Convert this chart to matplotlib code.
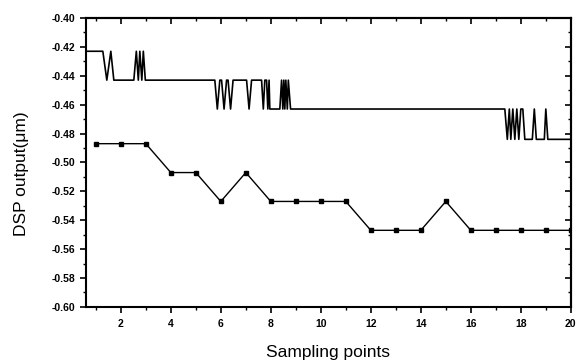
import numpy as np
import matplotlib.pyplot as plt
from matplotlib.ticker import MultipleLocator

plt.rcParams['font.family'] = ['Liberation Sans', 'DejaVu Sans']

# measured DSP output, sampled once per point
sample_x = np.arange(1, 21)
sample_y = [-0.487, -0.487, -0.487, -0.507, -0.507, -0.527, -0.507, -0.527,
            -0.527, -0.527, -0.527, -0.547, -0.547, -0.547, -0.527, -0.547,
            -0.547, -0.547, -0.547, -0.547]

# continuous trace (quantized levels with dithering)
trace_x = [0.6, 1.28, 1.44, 1.60, 1.72, 2.52, 2.62, 2.70, 2.76, 2.84, 2.90, 2.98,
           5.76, 5.86, 5.96, 6.03, 6.13, 6.23, 6.29, 6.39, 6.49, 7.03, 7.13, 7.23,
           7.63, 7.70, 7.76, 7.83, 7.88, 7.93, 7.96, 8.36, 8.43, 8.48, 8.52, 8.56,
           8.60, 8.66, 8.70, 8.79,
           17.36, 17.46, 17.54, 17.60, 17.68, 17.76, 17.84, 17.92, 18.00, 18.08,
           18.16, 18.46, 18.54, 18.62, 18.94, 19.00, 19.08, 20.0]
trace_y = [-0.423, -0.423, -0.443, -0.423, -0.443, -0.443, -0.423, -0.443, -0.423,
           -0.443, -0.423, -0.443,
           -0.443, -0.463, -0.443, -0.443, -0.463, -0.443, -0.443, -0.463, -0.443,
           -0.443, -0.463, -0.443, -0.443, -0.463, -0.443, -0.443, -0.463, -0.443,
           -0.463, -0.463, -0.443, -0.463, -0.443, -0.463, -0.443, -0.463, -0.443,
           -0.463,
           -0.463, -0.484, -0.463, -0.484, -0.463, -0.484, -0.463, -0.484, -0.463,
           -0.463, -0.484, -0.484, -0.463, -0.484, -0.484, -0.463, -0.484, -0.484]

fig = plt.figure(figsize=(5.76, 3.61), dpi=100)
ax = fig.add_axes([0.149, 0.150, 0.842, 0.800])

ax.plot(trace_x, trace_y, color='black', linewidth=1.2)
ax.plot(sample_x, sample_y, color='black', linewidth=1.0, marker='s',
        markersize=3)

ax.set_xlim(0.6, 20)
ax.set_ylim(-0.60, -0.40)
ax.xaxis.set_major_locator(MultipleLocator(2))
ax.xaxis.set_minor_locator(MultipleLocator(1))
ax.yaxis.set_major_locator(MultipleLocator(0.02))
ax.yaxis.set_minor_locator(MultipleLocator(0.01))
ax.yaxis.set_major_formatter(plt.FuncFormatter(lambda v, p: f"{v:.2f}"))

for s in ax.spines.values():
    s.set_linewidth(1.5)

ax.tick_params(axis='both', which='major', direction='out', length=4,
               width=1.2, labelsize=7.5)
ax.tick_params(axis='both', which='minor', direction='out', length=2.5,
               width=1.0)
ax.tick_params(axis='x', which='major', pad=5)
for lab in ax.get_xticklabels() + ax.get_yticklabels():
    lab.set_fontweight('bold')

# inward ticks on top and right
top = ax.secondary_xaxis('top')
top.xaxis.set_major_locator(MultipleLocator(2))
top.xaxis.set_minor_locator(MultipleLocator(1))
top.tick_params(which='major', direction='in', length=4, width=1.2,
                labeltop=False)
top.tick_params(which='minor', direction='in', length=2.5, width=1.0)
right = ax.secondary_yaxis('right')
right.yaxis.set_major_locator(MultipleLocator(0.02))
right.yaxis.set_minor_locator(MultipleLocator(0.01))
right.tick_params(which='major', direction='in', length=4, width=1.2,
                  labelright=False)
right.tick_params(which='minor', direction='in', length=2.5, width=1.0)
for sec in (top, right):
    for s in sec.spines.values():
        s.set_linewidth(1.5)

ax.set_xlabel("Sampling points", fontsize=12.5, labelpad=11)
ax.set_ylabel("DSP output(\u03bcm)", fontsize=12.5, labelpad=16, y=0.46)

fig.savefig("out.png", dpi=100)
